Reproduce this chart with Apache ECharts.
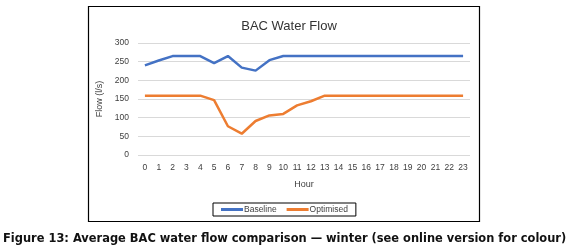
<!DOCTYPE html>
<html>
<head>
<meta charset="utf-8">
<script src="https://cdn.jsdelivr.net/npm/echarts@6/dist/echarts.min.js"></script>
<style>
html, body { margin: 0; padding: 0; background: #fff; }
#main { width: 566px; height: 252px; }
</style>
</head>
<body>
<div id="main"></div>
<script>
"use strict";
// hours along the x axis
let hours = [];
for (let h = 0; h < 24; h++) hours.push(String(h));
let baseline = [240, 253, 265, 265, 265, 246, 265, 234, 226, 254, 265, 265, 265, 265, 265, 265, 265, 265, 265, 265, 265, 265, 265, 265];
let optimised = [159, 159, 159, 159, 159, 147, 77, 57, 91, 106, 110, 133, 144, 159, 159, 159, 159, 159, 159, 159, 159, 159, 159, 159];
let yTicks = [0, 50, 100, 150, 200, 250, 300];

let myChart = echarts.init(document.getElementById('main'), null, { renderer: 'canvas' });
let axisFont = 'Liberation Sans';
let option = {
    animation: false,
    title: [{
        text: 'BAC Water Flow',
        left: 284, top: 15, textAlign: 'center',
        textStyle: { fontFamily: axisFont, fontSize: 13, fontWeight: 'normal', color: '#333' }
    }, {
        text: 'Figure 13: Average BAC water flow comparison \u2014 winter (see online version for colour)',
        left: 3, top: 234, textAlign: 'left', padding: 0,
        textStyle: { fontFamily: 'DejaVu Sans', fontSize: 11.45, fontWeight: 'bold', color: '#111' }
    }],
    graphic: [{
        type: 'rect',
        shape: { x: 88.5, y: 6.5, width: 391, height: 215 },
        style: { fill: 'none', stroke: '#000', lineWidth: 1.2 }
    }],
    legend: {
        data: ['Baseline', 'Optimised'],
        left: 213, top: 203,
        borderColor: '#000', borderWidth: 1, padding: [2, 8],
        itemWidth: 22, itemHeight: 3, itemGap: 10,
        icon: 'rect',
        textStyle: { fontFamily: axisFont, fontSize: 8.5, color: '#404040', padding: [0, 0, 0, -4] }
    },
    grid: { left: 138, right: 96, top: 43, bottom: 97 },
    xAxis: {
        type: 'category',
        data: hours,
        boundaryGap: true,
        name: 'Hour',
        nameLocation: 'middle',
        nameGap: 25,
        nameTextStyle: { fontFamily: axisFont, fontSize: 9, color: '#404040' },
        axisLine: { show: false },
        axisTick: { show: false },
        axisLabel: { interval: 0, fontFamily: axisFont, fontSize: 8.5, color: '#404040', margin: 8 }
    },
    yAxis: {
        type: 'value',
        min: yTicks[0], max: yTicks[yTicks.length - 1], interval: 50,
        name: 'Flow (l/s)',
        nameLocation: 'middle',
        nameGap: 29,
        nameTextStyle: { fontFamily: axisFont, fontSize: 9, color: '#404040' },
        axisLine: { show: false },
        axisTick: { show: false },
        splitLine: { lineStyle: { color: '#d9d9d9', width: 1 } },
        axisLabel: { fontFamily: axisFont, fontSize: 8.5, color: '#404040', margin: 9 }
    },
    series: [{
        name: 'Baseline',
        type: 'line',
        data: baseline,
        symbol: 'none',
        lineStyle: { color: '#4472C4', width: 2.5 },
        itemStyle: { color: '#4472C4' }
    }, {
        name: 'Optimised',
        type: 'line',
        data: optimised,
        symbol: 'none',
        lineStyle: { color: '#ED7D31', width: 2.5 },
        itemStyle: { color: '#ED7D31' }
    }]
};
myChart.setOption(option);
</script>
</body>
</html>
